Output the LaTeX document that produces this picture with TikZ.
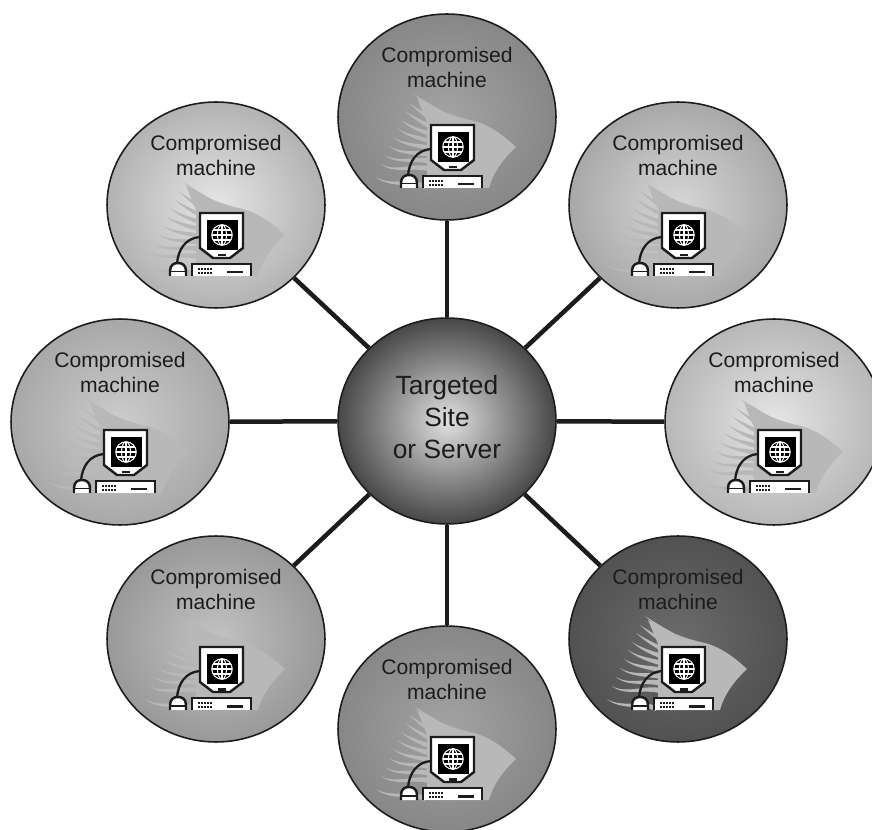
\documentclass[tikz,border=0pt]{standalone}
\usepackage{fontspec}
\setmainfont{Liberation Sans}
\usetikzlibrary{shapes.geometric}
\definecolor{inktone}{gray}{0.11}
\definecolor{fantone}{gray}{0.72}
\tikzset{
  disc/.style = {ellipse, draw = inktone, line width = 0.9pt, minimum width = 4.36cm, minimum height = 4.12cm, inner sep = 0pt},
  link/.style = {draw = inktone, line width = 0.09cm},
  machinetext/.style = {align = center, font = \fontsize{12}{14.2}\selectfont, text = inktone},
  targettext/.style = {align = center, font = \fontsize{15}{18}\selectfont, text = inktone},
  pics/workstation/.style = {code = {
      % swoosh behind the computer
      \fill[fantone] (-30,-19) .. controls (-8,-6) and (8,0) .. (27,4) .. controls (45,9) and (58,20) .. (69,30)
        .. controls (56,42) and (46,56) .. (42,71) -- (-20,71) -- (-20,5) -- cycle;
      \foreach \tipx/\tipy/\endx/\endy in {-33/-23/10/2, -38/-14/-2/7, -42/-6/-4/13, -46/3/-6/19, -50/11/-8/25,
          -54/20/-10/31, -58/29/-12/37, -62/38/-14/43, -66/47/-16/50, -71/60/-22/67}
        \fill[fantone] (\tipx,\tipy) .. controls ({\tipx+14},{\tipy+9}) and ({\endx-12},{\endy-6}) .. (\endx,\endy)
          -- (\endx,{\endy+5}) .. controls ({\endx-14},{\endy-1}) and ({\tipx+12},{\tipy+11}) .. (\tipx,\tipy) -- cycle;
      % cable and mouse
      \draw[inktone, line width = 1.3pt] (-16,32) .. controls (-30,33) and (-38,44) .. (-39,59);
      \fill[white, draw = inktone, line width = 1.4pt] (-46,71) -- (-46,66) .. controls (-46,60) and (-42,58) .. (-38,58)
        .. controls (-34,58) and (-30,60) .. (-30,66) -- (-30,71);
      \fill[inktone] (-46,66) -- (-30,66) -- (-30,67.5) -- (-46,67.5) -- cycle;
      % monitor
      \fill[white, draw = inktone, line width = 1.4pt] (-16,8) -- (27,8) -- (27,43) -- (14,53) -- (-3,53) -- (-16,43) -- cycle;
      \fill[black] (-9,15) rectangle (22,45);
      \fill[inktone] (2,49) rectangle (10,51.5);
      \begin{scope}[white, line width = 0.6pt]
        \draw (6,30) circle [x radius = 0.205cm, y radius = 0.205cm];
        \draw (6,30) circle [x radius = 0.09cm, y radius = 0.205cm];
        \draw (-4.2,30) -- (16.2,30);
        \draw (-2.8,25) -- (14.8,25);
        \draw (-2.8,35) -- (14.8,35);
        \draw (6,19.8) -- (6,40.2);
      \end{scope}
      % base unit
      \fill[white] (-24,59) rectangle (35,71);
      \draw[inktone, line width = 1.4pt] (-24,71) -- (-24,59) -- (35,59) -- (35,71);
      \foreach \dotx in {-18,-15,-12,-9,-6}
        \foreach \doty in {63,67}
          \fill[inktone] (\dotx,\doty) rectangle ({\dotx+1.6},{\doty+1.6});
      \fill[inktone] (11,66) rectangle (27,68.5);
  }}
}
\begin{document}
\begin{tikzpicture}[x = 0.02cm, y = -0.02cm]
  \useasboundingbox (0,0) rectangle (872,830);
  \node[disc, inner color = black!12, outer color = black!72] (target) at (447,421) {};
  \node[targettext] (targetlabel) at (447,417) {Targeted\\Site\\or Server};

  \foreach \name/\cx/\cy/\tonein/\toneout in {
      north/447/117/36/47, northwest/216/205/10/30, northeast/678/205/16/34,
      west/120/422/20/34, east/774/422/10/28, southwest/216/639/24/40,
      south/447/729/36/47, southeast/678/639/58/68} {
    \node[disc, inner color = black!\tonein, outer color = black!\toneout] (\name) at (\cx,\cy) {};
    \node[machinetext] (\name label) at (\cx,\cy-50) {Compromised\\machine};
    \pic at (\name) {workstation};
    \draw[link] (target) -- (\name);
  }
\end{tikzpicture}
\end{document}
